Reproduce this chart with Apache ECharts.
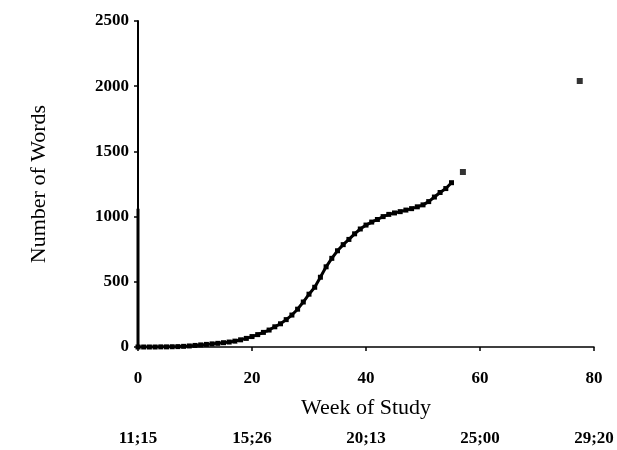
<!DOCTYPE html>
<html>
<head>
<meta charset="utf-8">
<script src="https://cdn.jsdelivr.net/npm/echarts@6/dist/echarts.min.js"></script>
<style>
html,body{margin:0;padding:0;background:#fff;}
#main{width:617px;height:450px;}
</style>
</head>
<body>
<div id="main"></div>
<script>
// weekly vocabulary counts, weeks 0..55
var weeks = [0,1,2,3,4,5,6,7,8,9,10,11,12,13,14,15,16,17,18,19,20,21,22,23,24,25,26,27,28,29,30,31,32,33,34,35,36,37,38,39,40,41,42,43,44,45,46,47,48,49,50,51,52,53,54,55];
var words = [0,0,0,0,1,1,2,3,5,8,12,16,20,24,28,33,38,45,55,66,80,95,112,130,155,178,210,245,290,345,405,458,535,615,680,738,785,825,868,905,935,958,978,1000,1017,1028,1038,1050,1061,1075,1090,1115,1150,1185,1215,1260];
// later isolated counts
var laterWeeks = [57, 77.5];
var laterWords = [1342, 2040];
// dark stroke along the y axis at week 0
var stemWeeks = [0, 0];
var stemWords = [0, 1060];

var xTicks = [0, 20, 40, 60, 80];
var ageLabels = ['11;15', '15;26', '20;13', '25;00', '29;20'];

function pairs(xs, ys) {
	var out = [];
	for (var i = 0; i < xs.length; i++) {
		out.push([xs[i], ys[i]]);
	}
	return out;
}

var serif = '"Liberation Serif", "DejaVu Serif", serif';
var chart = echarts.init(document.getElementById('main'));
var option = {
	animation: false,
	grid: {left: 138, right: 23, top: 21, bottom: 103},
	xAxis: [
		{
			type: 'value', min: 0, max: 80, interval: 20,
			name: 'Week of Study', nameLocation: 'middle', nameGap: 50,
			nameTextStyle: {fontFamily: serif, fontSize: 22, color: '#000'},
			axisLine: {lineStyle: {color: '#000', width: 1.5}},
			axisTick: {length: 4, lineStyle: {color: '#000', width: 1.5}},
			axisLabel: {fontFamily: serif, fontSize: 17, fontWeight: 'bold', color: '#000', margin: 23},
			splitLine: {show: false}
		},
		{
			type: 'value', min: 0, max: 80, interval: 20, position: 'bottom',
			axisLine: {show: false},
			axisTick: {show: false},
			splitLine: {show: false},
			axisLabel: {
				fontFamily: serif, fontSize: 17, fontWeight: 'bold', color: '#000', margin: 83,
				formatter: function(v) {
					var i = xTicks.indexOf(v);
					return i >= 0 ? ageLabels[i] : '';
				}
			}
		}
	],
	yAxis: {
		type: 'value', min: 0, max: 2500, interval: 500,
		name: 'Number of Words', nameLocation: 'middle', nameGap: 88, nameRotate: 90,
		nameTextStyle: {fontFamily: serif, fontSize: 22, color: '#000'},
		axisLine: {show: true, lineStyle: {color: '#000', width: 2}},
		axisTick: {show: true, length: 4, lineStyle: {color: '#000', width: 1.5}},
		axisLabel: {
			fontFamily: serif, fontSize: 17, fontWeight: 'bold', color: '#000', margin: 9,
			formatter: function(v) { return String(v); }
		},
		splitLine: {show: false}
	},
	series: [
		{
			name: 'stem', type: 'line', data: pairs(stemWeeks, stemWords),
			symbol: 'none', lineStyle: {color: '#000', width: 3}, silent: true
		},
		{
			name: 'words', type: 'line', data: pairs(weeks, words),
			symbol: 'rect', symbolSize: 5,
			itemStyle: {color: '#000'},
			lineStyle: {color: '#000', width: 3}
		},
		{
			name: 'later', type: 'scatter', data: pairs(laterWeeks, laterWords),
			symbol: 'rect', symbolSize: 6,
			itemStyle: {color: '#000'}
		}
	]
};
chart.setOption(option);
</script>
</body>
</html>
